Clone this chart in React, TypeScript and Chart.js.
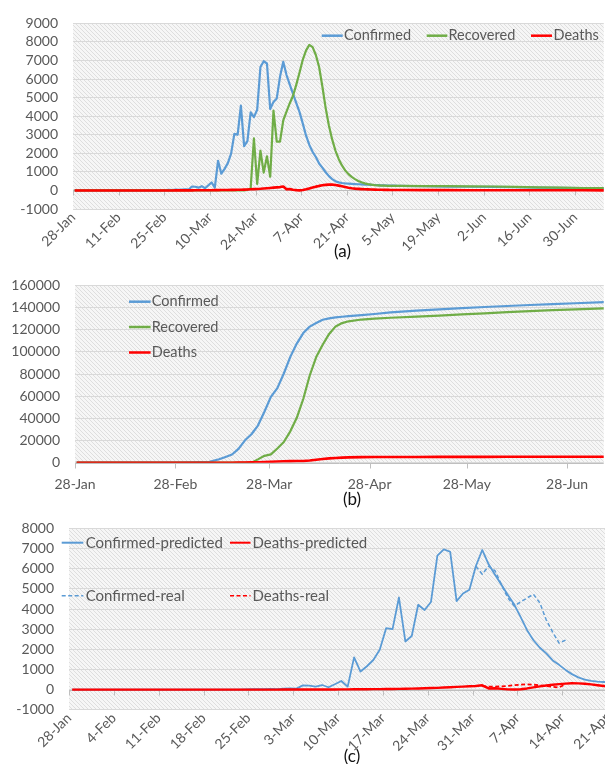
import React, { useEffect, useRef } from 'react';
import { Chart, registerables } from 'chart.js';

Chart.register(...registerables);

// ---------------- Data (day 0 = 28-Jan) ----------------
// Panel (a) and (c): daily values
const DAYS_A = [0, 7, 14, 21,
  26, 27, 28, 29, 30, 31, 32, 33, 34, 35,
  36, 37, 38, 39, 40, 41, 42, 43, 44, 45,
  46, 47, 48, 49, 50, 51, 52, 53, 54, 55,
  56, 57, 58, 59, 60, 61, 62, 63, 64, 65,
  66, 67, 68, 69, 70, 71, 72, 73, 74, 75,
  76, 77, 78, 79, 80, 81, 82, 83, 84, 85,
  86, 87, 88, 89, 90, 91, 92, 93, 94, 95,
  96, 97, 98, 99, 100,
  107, 114, 121, 128, 135, 142, 149, 156, 163];

const CONFIRMED_A = [0, 0, 0, 0,
  0, 10, 20, 30, 20, 40, 30, 50, 60, 50,
  210, 200, 150, 230, 120, 270, 430, 150, 1600, 900,
  1160, 1470, 1980, 3050, 3000, 4570, 2390, 2660, 4210, 3950,
  4350, 6650, 6960, 6840, 4390, 4770, 4960, 6120, 6930, 6220,
  5700, 5200, 4700, 4220, 3600, 2950, 2450, 2080, 1800, 1450,
  1230, 980, 770, 610, 500, 435, 400, 380, 365, 352,
  342, 333, 325, 317, 310, 300, 292, 285, 278, 272,
  266, 260, 255, 250, 246,
  225, 210, 200, 190, 175, 150, 135, 120, 110];

const RECOVERED_A = [0, 0, 0, 0,
  0, 0, 0, 0, 0, 0, 0, 0, 0, 0,
  0, 0, 0, 0, 0, 0, 0, 0, 0, 0,
  0, 0, 0, 0, 0, 0, 0, 30, 120, 2800,
  350, 2140, 960, 1840, 740, 4300, 2630, 2630, 3770, 4250,
  4700, 5100, 5700, 6350, 7050, 7550, 7840, 7720, 7300, 6650,
  5600, 4450, 3500, 2750, 2150, 1700, 1350, 1080, 880, 730,
  610, 510, 440, 380, 340, 310, 290, 275, 262, 255,
  250, 247, 245, 243, 241,
  237, 230, 222, 212, 195, 165, 148, 132, 125];

const DEATHS_A = [0, 0, 0, 0,
  0, 0, 0, 0, 0, 2, 3, 4, 5, 5,
  6, 7, 8, 8, 9, 10, 12, 15, 18, 20,
  22, 25, 28, 32, 35, 40, 45, 50, 60, 70,
  80, 90, 105, 120, 135, 150, 165, 180, 215, 60,
  70, 40, 15, 5, 20, 60, 110, 160, 205, 245,
  275, 300, 315, 312, 295, 260, 220, 180, 145, 120,
  100, 85, 72, 62, 55, 48, 43, 38, 34, 31,
  28, 26, 24, 22, 21,
  18, 15, 13, 11, 10, 9, 8, 7, 6];

// Panel (c): real observations
const DAYS_REAL_CONF = [63, 64, 65, 66, 67, 68, 69, 70, 71, 72, 73, 74, 75, 76, 77];
const CONFIRMED_REAL = [6120, 5730, 6120, 5900, 5200, 4550, 4150, 4350, 4550, 4730, 4300, 3450, 2850, 2310, 2460];
const DAYS_REAL_DEATHS = [64, 65, 66, 67, 68, 69, 70, 71, 72, 73, 74, 75, 76, 77];
const DEATHS_REAL = [175, 150, 150, 160, 185, 220, 250, 260, 245, 215, 180, 140, 110, 270];

// Panel (b): cumulative values
const DAYS_B = [0, 25, 30, 35, 38, 41, 44, 46, 48, 50, 52, 54, 56, 58, 60, 62, 64, 66, 68, 70,
  72, 74, 76, 78, 80, 82, 84, 88, 92, 97, 105, 112, 119, 126, 133, 140, 147, 154, 163];
const CONFIRMED_B = [0, 0, 100, 250, 500, 800, 3100, 5200, 7400, 12500, 20200, 25700, 33500, 46000, 59400,
  67300, 80500, 95500, 107500, 117000, 122800, 126000, 129000, 130300, 131100, 131700, 132200,
  133200, 134200, 135700, 137200, 138400, 139500, 140500, 141400, 142300, 143100, 143900, 145000];
const RECOVERED_B = [0, 0, 0, 0, 0, 0, 0, 0, 0, 0, 0, 0, 3000, 6200, 7500,
  12800, 18700, 28300, 40500, 57500, 78700, 95300, 106400, 116200, 123000, 126000, 127600,
  129200, 130000, 130800, 131800, 132800, 133800, 134800, 135800, 136700, 137600, 138400, 139300];
const DEATHS_B = [0, 0, 0, 0, 0, 0, 0, 0, 20, 100, 200, 300, 450, 650, 850,
  1100, 1300, 1450, 1500, 1550, 2000, 2700, 3300, 3900, 4300, 4600, 4800,
  5000, 5100, 5150, 5200, 5250, 5280, 5300, 5320, 5350, 5370, 5400, 5420];

// Tick labels
const TICK_DAYS_A = [0, 14, 28, 42, 56, 70, 84, 98, 112, 126, 140, 154];
const TICK_LABELS_A = ['28-Jan', '11-Feb', '25-Feb', '10-Mar', '24-Mar', '7-Apr', '21-Apr', '5-May', '19-May', '2-Jun', '16-Jun', '30-Jun'];
const TICK_DAYS_B = [0, 31, 60, 91, 121, 152];
const TICK_LABELS_B = ['28-Jan', '28-Feb', '28-Mar', '28-Apr', '28-May', '28-Jun'];
const TICK_DAYS_C = [0, 7, 14, 21, 28, 35, 42, 49, 56, 63, 70, 77, 84];
const TICK_LABELS_C = ['28-Jan', '4-Feb', '11-Feb', '18-Feb', '25-Feb', '3-Mar', '10-Mar', '17-Mar', '24-Mar', '31-Mar', '7-Apr', '14-Apr', '21-Apr'];

// ---------------- Styles ----------------
const FONT = 'Lato, "Open Sans", "DejaVu Sans", sans-serif';
const TEXT = '#595959';
const BLUE = '#5b9bd5';
const GREEN = '#70ad47';
const RED = '#ff0000';
const GRID = '#d9d9d9';

type LegendItem = { label: string; color: string; dash?: number[]; x1: number; x2: number; tx: number; y: number; w: number };

interface PanelSpec {
  width: number; height: number;
  plotLeft: number; plotTop: number; plotBottom: number;
  xMax: number; tickDays: number[]; tickLabels: string[]; rotation: number; xPad: number;
  yMin: number; yMax: number; yStep: number;
  datasets: any[];
  legend: LegendItem[]; legendFont: number;
  caption: string; captionX: number; captionY: number;
}

const pts = (days: number[], vals: number[]) => days.map((d, i) => ({ x: d + 0.5, y: vals[i] }));

function ds(label: string, data: any[], color: string, width: number, order: number, dash?: number[]) {
  return {
    label, data, borderColor: color, backgroundColor: color, borderWidth: width,
    pointRadius: 0, tension: 0, fill: false, order, borderDash: dash || [],
    borderJoinStyle: 'round', borderCapStyle: 'butt',
  };
}

function buildChart(canvas: HTMLCanvasElement, p: PanelSpec) {
  let pattern: CanvasPattern | null = null;
  const hatch = {
    id: 'hatch',
    beforeDraw(chart: any) {
      const { ctx, chartArea } = chart;
      if (!pattern) {
        const c = document.createElement('canvas');
        c.width = 4; c.height = 4;
        const g = c.getContext('2d')!;
        g.fillStyle = '#f6f6f6';
        g.fillRect(0, 0, 4, 4);
        g.fillStyle = '#dedede';
        for (let i = 0; i < 4; i++) g.fillRect(i, i, 1, 1);
        pattern = ctx.createPattern(c, 'repeat');
      }
      ctx.save();
      ctx.fillStyle = pattern as any;
      ctx.fillRect(chartArea.left, chartArea.top, chartArea.right - chartArea.left, chartArea.bottom - chartArea.top);
      ctx.restore();
    },
  };
  const zeroAxis = {
    id: 'zeroAxis',
    beforeDatasetsDraw(chart: any) {
      const { ctx, chartArea, scales } = chart;
      const y0 = Math.round(scales.y.getPixelForValue(0)) + 0.5;
      ctx.save();
      ctx.strokeStyle = '#bfbfbf';
      ctx.lineWidth = 1;
      ctx.beginPath();
      ctx.moveTo(chartArea.left, y0);
      ctx.lineTo(chartArea.right, y0);
      for (const t of scales.x.ticks) {
        const x = Math.round(scales.x.getPixelForValue(t.value)) + 0.5;
        ctx.moveTo(x, y0);
        ctx.lineTo(x, y0 + 5);
      }
      ctx.stroke();
      ctx.restore();
    },
  };
  const legendAndCaption = {
    id: 'legendCaption',
    afterDraw(chart: any) {
      const ctx = chart.ctx;
      ctx.save();
      ctx.font = `${p.legendFont}px ${FONT}`;
      ctx.textBaseline = 'middle';
      ctx.textAlign = 'left';
      for (const it of p.legend) {
        ctx.strokeStyle = it.color;
        ctx.lineWidth = it.w;
        ctx.setLineDash(it.dash || []);
        ctx.beginPath();
        ctx.moveTo(it.x1, it.y);
        ctx.lineTo(it.x2, it.y);
        ctx.stroke();
        ctx.setLineDash([]);
        ctx.fillStyle = TEXT;
        ctx.fillText(it.label, it.tx, it.y);
      }
      ctx.font = `17px ${FONT}`;
      ctx.fillStyle = '#111111';
      ctx.textAlign = 'center';
      ctx.fillText(p.caption, p.captionX, p.captionY);
      ctx.restore();
    },
  };

  return new Chart(canvas, {
    type: 'line',
    data: { datasets: p.datasets },
    options: {
      animation: false,
      responsive: false,
      maintainAspectRatio: false,
      devicePixelRatio: 1,
      events: [],
      layout: { padding: { top: p.plotTop, left: 0, right: 0, bottom: 0 } },
      plugins: { legend: { display: false }, tooltip: { enabled: false }, title: { display: false } },
      scales: {
        x: {
          type: 'linear',
          min: 0,
          max: p.xMax,
          bounds: 'data',
          grid: { display: false, drawTicks: false },
          border: { display: false },
          afterBuildTicks: (axis: any) => { axis.ticks = p.tickDays.map((v) => ({ value: v })); },
          afterFit: (axis: any) => { axis.height = p.height - p.plotBottom; },
          ticks: {
            autoSkip: false,
            minRotation: p.rotation,
            maxRotation: p.rotation,
            padding: p.xPad,
            color: TEXT,
            font: { family: FONT, size: 14 },
            callback: (_v: any, i: number) => p.tickLabels[i] ?? '',
          },
        },
        y: {
          min: p.yMin,
          max: p.yMax,
          grid: { color: GRID, lineWidth: 1, drawTicks: false },
          border: { display: false },
          afterFit: (axis: any) => { axis.width = p.plotLeft; },
          ticks: {
            autoSkip: false,
            stepSize: p.yStep,
            padding: 15,
            color: TEXT,
            font: { family: FONT, size: 14 },
            callback: (v: any) => String(v),
          },
        },
      },
    } as any,
    plugins: [hatch, zeroAxis, legendAndCaption],
  });
}

const SPEC_A: PanelSpec = {
  width: 605, height: 262, plotLeft: 73, plotTop: 19.3, plotBottom: 209,
  xMax: 162.8, tickDays: TICK_DAYS_A, tickLabels: TICK_LABELS_A, rotation: 45, xPad: 0,
  yMin: -1000, yMax: 9000, yStep: 1000,
  datasets: [
    ds('Confirmed', pts(DAYS_A, CONFIRMED_A), BLUE, 2.2, 3),
    ds('Recovered', pts(DAYS_A, RECOVERED_A), GREEN, 2.2, 2),
    ds('Deaths', pts(DAYS_A, DEATHS_A), RED, 2.6, 1),
  ],
  legend: [
    { label: 'Confirmed', color: BLUE, x1: 321.7, x2: 342.7, tx: 344, y: 35.7, w: 2.5 },
    { label: 'Recovered', color: GREEN, x1: 426.7, x2: 447.3, tx: 448.5, y: 35.7, w: 2.5 },
    { label: 'Deaths', color: RED, x1: 531, x2: 552, tx: 553.5, y: 35.7, w: 2.5 },
  ],
  legendFont: 14.5,
  caption: '(a)', captionX: 342.5, captionY: 252,
};

const SPEC_B: PanelSpec = {
  width: 605, height: 250, plotLeft: 75, plotTop: 9, plotBottom: 200.7,
  xMax: 163.3, tickDays: TICK_DAYS_B, tickLabels: TICK_LABELS_B, rotation: 0, xPad: 13,
  yMin: 0, yMax: 160000, yStep: 20000,
  datasets: [
    ds('Confirmed', pts(DAYS_B, CONFIRMED_B), BLUE, 2.2, 3),
    ds('Recovered', pts(DAYS_B, RECOVERED_B), GREEN, 2.2, 2),
    ds('Deaths', pts(DAYS_B, DEATHS_B), RED, 2.6, 1),
  ],
  legend: [
    { label: 'Confirmed', color: BLUE, x1: 129, x2: 150.6, tx: 151.7, y: 39.7, w: 2.5 },
    { label: 'Recovered', color: GREEN, x1: 129, x2: 150.6, tx: 151.7, y: 65, w: 2.5 },
    { label: 'Deaths', color: RED, x1: 129, x2: 150.6, tx: 151.7, y: 90.5, w: 2.5 },
  ],
  legendFont: 14.5,
  caption: '(b)', captionX: 352, captionY: 238,
};

const SPEC_C: PanelSpec = {
  width: 650, height: 259, plotLeft: 69, plotTop: 11, plotBottom: 204.8,
  xMax: 90.5, tickDays: TICK_DAYS_C, tickLabels: TICK_LABELS_C, rotation: 45, xPad: 0,
  yMin: -1000, yMax: 8000, yStep: 1000,
  datasets: [
    ds('Confirmed-predicted', pts(DAYS_A, CONFIRMED_A), BLUE, 1.8, 4),
    ds('Deaths-predicted', pts(DAYS_A, DEATHS_A), RED, 2.4, 3),
    ds('Confirmed-real', pts(DAYS_REAL_CONF, CONFIRMED_REAL), BLUE, 1.5, 2, [4, 2.5]),
    ds('Deaths-real', pts(DAYS_REAL_DEATHS, DEATHS_REAL), RED, 1.8, 1, [4, 2.5]),
  ],
  legend: [
    { label: 'Confirmed-predicted', color: BLUE, x1: 61.7, x2: 83.3, tx: 85.7, y: 37.7, w: 2 },
    { label: 'Deaths-predicted', color: RED, x1: 230, x2: 250.5, tx: 252.5, y: 37.7, w: 2 },
    { label: 'Confirmed-real', color: BLUE, dash: [4, 2.5], x1: 61.7, x2: 83.3, tx: 85.7, y: 90.7, w: 1.6 },
    { label: 'Deaths-real', color: RED, dash: [4, 2.5], x1: 230, x2: 250.5, tx: 252.5, y: 90.7, w: 1.6 },
  ],
  legendFont: 15,
  caption: '(c)', captionX: 352, captionY: 252,
};

const PANELS = [
  { spec: SPEC_A, top: 0 },
  { spec: SPEC_B, top: 262 },
  { spec: SPEC_C, top: 505 },
];

export default function App() {
  const refs = [useRef<HTMLCanvasElement>(null), useRef<HTMLCanvasElement>(null), useRef<HTMLCanvasElement>(null)];

  useEffect(() => {
    let alive = true;
    const charts = PANELS.map((pn, i) => buildChart(refs[i].current as HTMLCanvasElement, pn.spec));
    const fonts = (document as any).fonts;
    if (fonts && fonts.load) {
      fonts.load(`14px Lato`).then(() => {
        if (alive) charts.forEach((c) => c.update('none'));
      }).catch(() => {});
    }
    return () => {
      alive = false;
      charts.forEach((c) => c.destroy());
    };
  }, []);

  return (
    <div style={{ position: 'absolute', left: 0, top: 0, width: 605, height: 764, overflow: 'hidden', background: '#ffffff' }}>
      {PANELS.map((pn, i) => (
        <canvas
          key={i}
          ref={refs[i]}
          width={pn.spec.width}
          height={pn.spec.height}
          style={{ position: 'absolute', left: 0, top: pn.top, width: pn.spec.width, height: pn.spec.height, display: 'block' }}
        />
      ))}
    </div>
  );
}
